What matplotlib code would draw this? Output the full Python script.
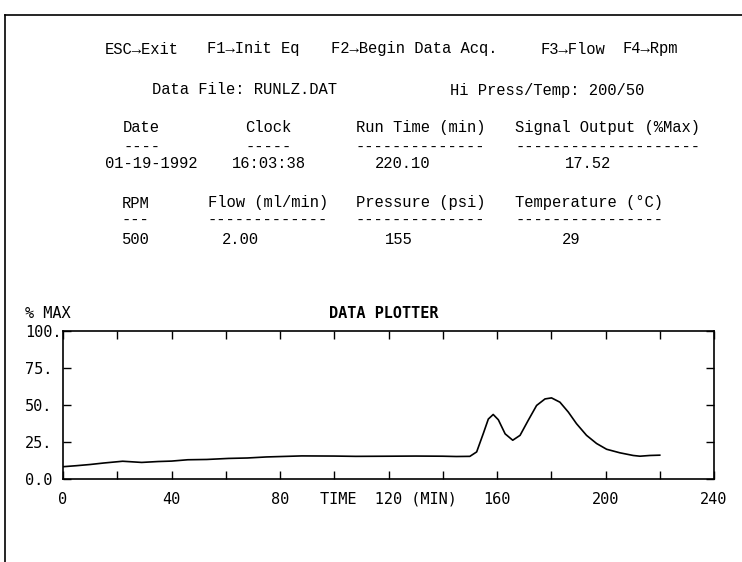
import matplotlib
matplotlib.use("Agg")
import matplotlib.pyplot as plt
from matplotlib.ticker import MultipleLocator

W, H = 742, 562

# header block of the acquisition screen
menu_items = ["ESC→Exit", "F1→Init Eq", "F2→Begin Data Acq.", "F3→Flow", "F4→Rpm"]
data_file = "Data File: RUNLZ.DAT"
hi_press_temp = "Hi Press/Temp: 200/50"
status_head1 = ["Date", "Clock", "Run Time (min)", "Signal Output (%Max)"]
status_vals1 = ["01-19-1992", "16:03:38", "220.10", "17.52"]
status_head2 = ["RPM", "Flow (ml/min)", "Pressure (psi)", "Temperature (°C)"]
status_vals2 = ["500", "2.00", "155", "29"]

# signal trace (time in min, signal in % max)
time_min = [0, 5, 10, 15, 22, 29, 35, 40, 46, 53, 61, 68, 75, 88, 100, 108,
            120, 130, 140, 145, 150, 152.5, 155, 156.8, 158.6, 160.5, 163,
            165.8, 168.5, 171.5, 174.6, 177.7, 180.1, 183.2, 186.3, 189.3,
            193, 196.7, 200.4, 205.3, 210.2, 212.7, 216.4, 220]
signal = [8.3, 9.0, 9.8, 10.8, 12.0, 11.2, 11.8, 12.1, 13.0, 13.2, 13.9,
          14.2, 14.9, 15.6, 15.5, 15.3, 15.4, 15.5, 15.4, 15.2, 15.3, 18.3,
          31.0, 40.5, 43.6, 40.0, 30.5, 26.2, 29.5, 39.6, 49.7, 54.1, 54.8,
          51.9, 45.2, 37.4, 29.5, 24.0, 20.1, 17.7, 15.9, 15.4, 15.9, 16.1]
x_ticks = [0, 40, 80, 120, 160, 200, 240]
x_labels = ["0", "40", "80", "TIME  120 (MIN)", "160", "200", "240"]
y_ticks = [0, 25, 50, 75, 100]
y_labels = ["0.0", "25.", "50.", "75.", "100."]

head_font = "Liberation Mono"
plot_font = "DejaVu Sans Mono"

fig = plt.figure(figsize=(W / 100, H / 100), dpi=100)


def put(x, y, s, **kw):
    # place text by pixel position (left edge, vertical centre)
    kw.setdefault("family", head_font)
    kw.setdefault("fontsize", 11.2)
    fig.text(x / W, 1 - y / H, s, va="center", ha="left", **kw)


# outer frame (top and left edges only)
fig.add_artist(plt.Line2D([5 / W, 1], [1 - 15 / H] * 2, color="black", lw=1.2))
fig.add_artist(plt.Line2D([5 / W] * 2, [0, 1 - 15 / H], color="black", lw=1.2))

for x, s in zip([105, 207, 331, 540, 623], menu_items):
    put(x, 49, s)
put(152, 90, data_file)
put(450, 90, hi_press_temp)

cols1 = [123, 245, 356, 515]
for x, s in zip(cols1, status_head1):
    put(x, 128, s)
    put(x, 147, "-" * len(s))
for x, s in zip([105, 232, 375, 565], status_vals1):
    put(x, 164, s)

cols2 = [122, 208, 356, 515]
for x, s in zip(cols2, status_head2):
    put(x, 203, s)
    put(x, 220, "-" * len(s))
for x, s in zip([122, 222, 385, 562], status_vals2):
    put(x, 239, s)

# plot area
ax = fig.add_axes([63 / W, 1 - 479 / H, (714 - 63) / W, (479 - 331) / H])
ax.plot(time_min, signal, color="black", lw=1.2)
ax.set_xlim(0, 240)
ax.set_ylim(0, 100)
for sp in ax.spines.values():
    sp.set_linewidth(1.2)

ax.set_xticks(x_ticks)
ax.set_xticklabels(x_labels, family=plot_font, fontsize=11)
ax.xaxis.set_minor_locator(MultipleLocator(20))
ax.set_yticks(y_ticks)
ax.set_yticklabels(y_labels, family=plot_font, fontsize=11)
for lab in ax.get_yticklabels():
    lab.set_horizontalalignment("left")
ax.tick_params(axis="both", which="both", direction="in", top=True,
               right=True, length=6, width=1.0)
ax.tick_params(axis="y", pad=27.5)
ax.tick_params(axis="x", pad=9)

fig.text(25 / W, 1 - 313 / H, "% MAX", family=plot_font, fontsize=11,
         va="center", ha="left")
fig.text(384 / W, 1 - 313 / H, "DATA PLOTTER", family=plot_font,
         fontsize=11, fontweight="bold", va="center", ha="center")

fig.savefig("out.png", dpi=100)
